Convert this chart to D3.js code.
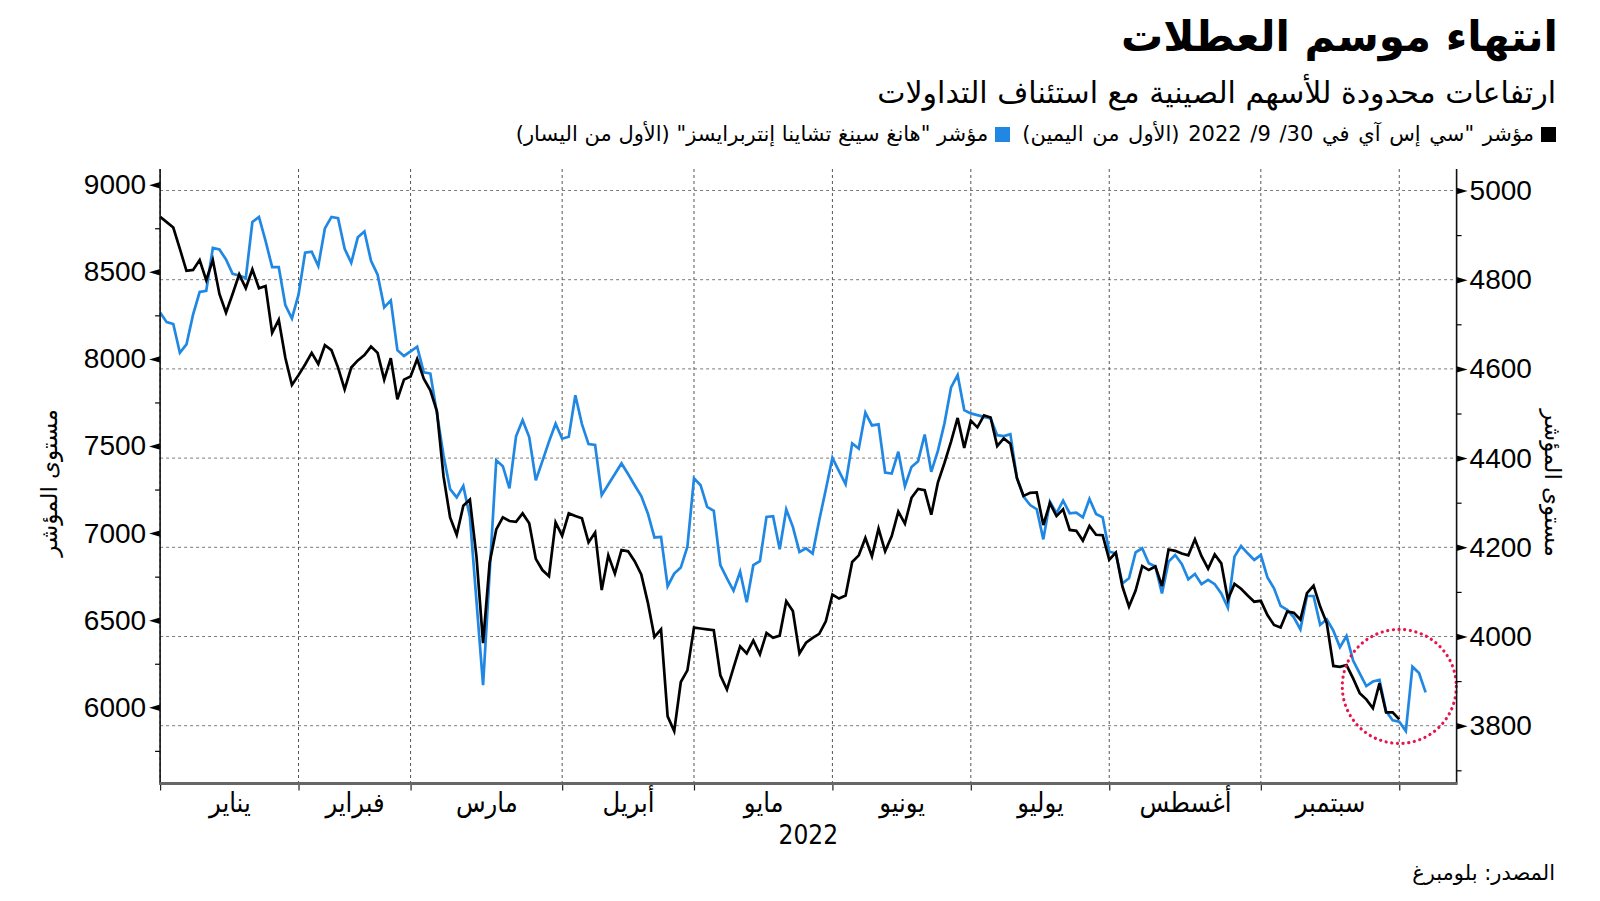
<!DOCTYPE html>
<html lang="ar">
<head>
<meta charset="utf-8">
<script src="https://cdn.jsdelivr.net/npm/d3@7"></script>
<style>
  html, body { margin: 0; padding: 0; background: #fff; }
  #wrap { position: relative; width: 1600px; height: 901px; overflow: hidden; background: #fff; }
  .rtl { position: absolute; direction: rtl; white-space: nowrap; font-family: "DejaVu Sans", sans-serif; color: #000; }
  #title { right: 42px; top: 12px; font-size: 42px; font-weight: bold; line-height: 1.2; }
  #subtitle { right: 44px; top: 75px; font-size: 30px; line-height: 1.2; }
  #legend { right: 44px; top: 122px; font-size: 21px; line-height: 1.2; }
  #legend .sw { display: inline-block; width: 15px; height: 15px; vertical-align: -1px; margin-left: 7px; }
  #legend .gap { display: inline-block; width: 12px; }
  #legend .first { word-spacing: 2px; }
  #source { right: 45px; top: 861px; font-size: 21px; line-height: 1.2; }
  svg { position: absolute; left: 0; top: 0; }
</style>
</head>
<body>
<div id="wrap">
  <svg id="chart" width="1600" height="901"></svg>
  <div id="title" class="rtl"></div>
  <div id="subtitle" class="rtl"></div>
  <div id="legend" class="rtl"></div>
  <div id="source" class="rtl"></div>
</div>
<script>
// ---------------- DATA ----------------
const titleText = "انتهاء موسم العطلات";
const subtitleText = "ارتفاعات محدودة للأسهم الصينية مع استئناف التداولات";
const legendLabels = ["مؤشر \"سي إس آي في 30/ 9/ 2022 (الأول من اليمين)", "مؤشر \"هانغ سينغ تشاينا إنتربرايسز\" (الأول من اليسار)"];
const axisTitle = "مستوى المؤشر";
const sourceText = "المصدر: بلومبرغ";
const yearLabel = "2022";

const months = ["يناير", "فبراير", "مارس", "أبريل", "مايو", "يونيو", "يوليو", "أغسطس", "سبتمبر"];
// trading-day index (both markets) of the last session before each month
const monthBoundaryIdx = [0, 21, 38, 61, 81, 102, 123, 144, 167, 188];

const leftTicks = [6000, 6500, 7000, 7500, 8000, 8500, 9000];
const leftMinorTicks = [5750, 6250, 6750, 7250, 7750, 8250, 8750];
const rightTicks = [3800, 4000, 4200, 4400, 4600, 4800, 5000];
const rightMinorTicks = [3700, 3900, 4100, 4300, 4500, 4700, 4900];

// CSI 300 (right axis), one value per trading day from 31 Dec 2021 to 30 Sep 2022
const csiValues = [
 4941,4929,4917,4869,4820,4822,4844,4799,4844,4768,4726,4768,4812,4781,4823,4781,4786,4681,4710,4625,
 4564,4586,4610,4636,4611,4653,4642,4603,4554,4603,4619,4631,4650,4636,4576,4624,4532,4576,4583,4622,
 4578,4552,4505,4359,4267,4228,4293,4307,4179,3985,4166,4240,4267,4259,4257,4276,4254,4174,4149,4135,
 4256,4226,4276,4270,4265,4211,4233,4104,4182,4141,4194,4191,4169,4139,4076,3999,4016,3821,3788,3898,
 3924,4020,4018,4016,4014,3913,3881,3930,3978,3962,3991,3960,4008,3997,4002,4079,4057,3962,3986,3997,
 4006,4034,4094,4085,4092,4167,4182,4221,4180,4242,4191,4225,4280,4253,4311,4331,4328,4273,4345,4389,
 4437,4490,4423,4484,4469,4496,4491,4427,4444,4432,4355,4315,4322,4323,4250,4299,4270,4285,4239,4237,
 4215,4248,4228,4227,4172,4188,4112,4067,4103,4158,4149,4157,4113,4195,4192,4186,4182,4218,4180,4152,
 4184,4164,4083,4118,4107,4092,4078,4080,4048,4026,4020,4056,4053,4038,4097,4114,4067,4030,3934,3932,
 3936,3906,3873,3859,3839,3895,3830,3830,3814
];

// Hang Seng China Enterprises (left axis), 31 Dec 2021 to 7 Oct 2022
const hsceiValues = [
 8266,8211,8200,8035,8083,8254,8384,8391,8637,8628,8571,8488,8479,8464,8786,8815,8677,8527,8527,8309,
 8232,8369,8610,8615,8533,8749,8815,8808,8632,8552,8698,8731,8563,8483,8296,8336,8050,8017,8043,8070,
 7923,7916,7688,7446,7252,7205,7270,7094,6610,6127,6773,7418,7384,7257,7556,7648,7551,7303,7413,7525,
 7628,7542,7553,7791,7626,7511,7506,7218,7279,7339,7400,7339,7275,7213,7113,6975,6978,6695,6768,6802,
 6922,7314,7275,7151,7128,6816,6740,6669,6778,6603,6816,6839,7093,7097,6907,7136,7036,6892,6912,6883,
 7074,7250,7432,7356,7281,7515,7485,7691,7618,7624,7348,7342,7467,7269,7380,7413,7566,7352,7472,7630,
 7836,7907,7706,7687,7677,7667,7658,7562,7557,7568,7315,7210,7161,7137,6964,7180,7114,7186,7114,7118,
 7090,7196,7110,7090,6893,6884,6712,6741,6889,6913,6827,6808,6654,6836,6874,6823,6735,6765,6707,6731,
 6707,6654,6572,6865,6926,6884,6846,6874,6746,6683,6582,6559,6517,6448,6639,6639,6473,6505,6440,6345,
 6409,6268,6195,6122,6148,6157,5977,5925,5917,5864,6233,6197,6086
];

// highlight: holiday resumption (index on x, value on right axis)
const highlightIdx = 188;
const highlightValue = 3888;

// ---------------- LAYOUT ----------------
const plot = { left: 160.1, right: 1456.6, top: 169, bottom: 783.5 };
const colors = { csi: "#000000", hscei: "#2088e2", ring: "#e3174d" };

const x = d3.scaleLinear().domain([0, 196.7]).range([plot.left, plot.right]);
const yL = d3.scaleLinear().domain([5562.6, 9090.1]).range([plot.bottom, plot.top]);
const yR = d3.scaleLinear().domain([3670.4, 5048.2]).range([plot.bottom, plot.top]);

const svg = d3.select("#chart");

// grid
const grid = svg.append("g");
grid.selectAll("line.h").data(rightTicks).join("line")
  .attr("x1", plot.left).attr("x2", plot.right)
  .attr("y1", d => yR(d)).attr("y2", d => yR(d))
  .attr("stroke", "#7a7a7a").attr("stroke-width", 1).attr("stroke-dasharray", "3,3");
grid.selectAll("line.v").data(monthBoundaryIdx).join("line")
  .attr("x1", d => x(d)).attr("x2", d => x(d))
  .attr("y1", plot.top).attr("y2", plot.bottom)
  .attr("stroke", "#555").attr("stroke-width", 1).attr("stroke-dasharray", "3,3");

// lines
const lineR = d3.line().x((d, i) => x(i)).y(d => yR(d));
const lineL = d3.line().x((d, i) => x(i)).y(d => yL(d));
svg.append("path").datum(hsceiValues).attr("d", lineL)
  .attr("fill", "none").attr("stroke", colors.hscei).attr("stroke-width", 2.7).attr("stroke-linejoin", "miter");
svg.append("path").datum(csiValues).attr("d", lineR)
  .attr("fill", "none").attr("stroke", colors.csi).attr("stroke-width", 2.7).attr("stroke-linejoin", "miter");

// highlight ring
svg.append("circle").attr("cx", x(highlightIdx)).attr("cy", yR(highlightValue)).attr("r", 57)
  .attr("fill", "none").attr("stroke", colors.ring).attr("stroke-width", 3.2)
  .attr("stroke-dasharray", "0.1,5.6").attr("stroke-linecap", "round");

// left axis
const gL = svg.append("g").attr("transform", `translate(${plot.left},0)`);
gL.call(d3.axisLeft(yL).tickValues(leftTicks).tickSize(0).tickPadding(14).tickFormat(d3.format("d")));
gL.select(".domain").remove();
gL.selectAll("text").attr("font-family", "Liberation Sans, Arial, sans-serif").attr("font-size", 28).attr("fill", "#000");
gL.selectAll(".tick").append("path").attr("d", "M0,-3.2L-11,0L0,3.2Z").attr("fill", "#000");
const gLm = svg.append("g").attr("transform", `translate(${plot.left},0)`);
gLm.call(d3.axisLeft(yL).tickValues(leftMinorTicks).tickSize(5).tickFormat(""));
gLm.select(".domain").remove();
gLm.selectAll("line").attr("stroke", "#000").attr("stroke-width", 1.2);
svg.append("line").attr("x1", plot.left).attr("x2", plot.left).attr("y1", plot.top).attr("y2", plot.bottom)
  .attr("stroke", "#111").attr("stroke-width", 1.6);

// right axis
const gR = svg.append("g").attr("transform", `translate(${plot.right},0)`);
gR.call(d3.axisRight(yR).tickValues(rightTicks).tickSize(0).tickPadding(13).tickFormat(d3.format("d")));
gR.select(".domain").remove();
gR.selectAll("text").attr("font-family", "Liberation Sans, Arial, sans-serif").attr("font-size", 28).attr("fill", "#000");
gR.selectAll(".tick").append("path").attr("d", "M0,-3.2L11,0L0,3.2Z").attr("fill", "#000");
const gRm = svg.append("g").attr("transform", `translate(${plot.right},0)`);
gRm.call(d3.axisRight(yR).tickValues(rightMinorTicks).tickSize(5).tickFormat(""));
gRm.select(".domain").remove();
gRm.selectAll("line").attr("stroke", "#000").attr("stroke-width", 1.2);
svg.append("line").attr("x1", plot.right).attr("x2", plot.right).attr("y1", plot.top).attr("y2", plot.bottom)
  .attr("stroke", "#111").attr("stroke-width", 1.6);

// bottom axis
const gB = svg.append("g").attr("transform", `translate(0,${plot.bottom})`);
gB.call(d3.axisBottom(x).tickValues(monthBoundaryIdx).tickSize(7).tickFormat(""));
gB.select(".domain").remove();
gB.selectAll("line").attr("stroke", "#222").attr("stroke-width", 1.2);
svg.append("line").attr("x1", plot.left - 1).attr("x2", plot.right + 1).attr("y1", plot.bottom).attr("y2", plot.bottom)
  .attr("stroke", "#666").attr("stroke-width", 3);

const monthMid = months.map((m, i) => (monthBoundaryIdx[i] + monthBoundaryIdx[i + 1]) / 2);
const gM = svg.append("g").attr("transform", `translate(0,${plot.bottom})`);
gM.call(d3.axisBottom(x).tickValues(monthMid).tickSize(0).tickPadding(9).tickFormat((d, i) => months[i]));
gM.select(".domain").remove();
gM.selectAll("text").attr("font-family", "DejaVu Sans Condensed, DejaVu Sans, sans-serif")
  .attr("font-stretch", "condensed").attr("font-size", 27).attr("fill", "#000");

svg.append("text").attr("x", (plot.left + plot.right) / 2).attr("y", 844)
  .attr("text-anchor", "middle").attr("font-family", "DejaVu Sans Condensed, DejaVu Sans, sans-serif")
  .attr("font-stretch", "condensed").attr("font-size", 26).text(yearLabel);

// axis titles
svg.append("text").attr("transform", "translate(57,483) rotate(-90)")
  .attr("text-anchor", "middle").attr("font-family", "DejaVu Sans, sans-serif").attr("font-size", 23).text(axisTitle);
svg.append("text").attr("transform", "translate(1545,483) rotate(90)")
  .attr("text-anchor", "middle").attr("font-family", "DejaVu Sans, sans-serif").attr("font-size", 23).text(axisTitle);

// header / legend / source (RTL html text)
d3.select("#title").text(titleText);
d3.select("#subtitle").text(subtitleText);
const lg = d3.select("#legend");
lg.append("span").attr("class", "sw").style("background", colors.csi);
lg.append("span").attr("class", "first").text(legendLabels[0]);
lg.append("span").attr("class", "gap");
lg.append("span").attr("class", "sw").style("background", colors.hscei);
lg.append("span").text(legendLabels[1]);
d3.select("#source").text(sourceText);
</script>
</body>
</html>
